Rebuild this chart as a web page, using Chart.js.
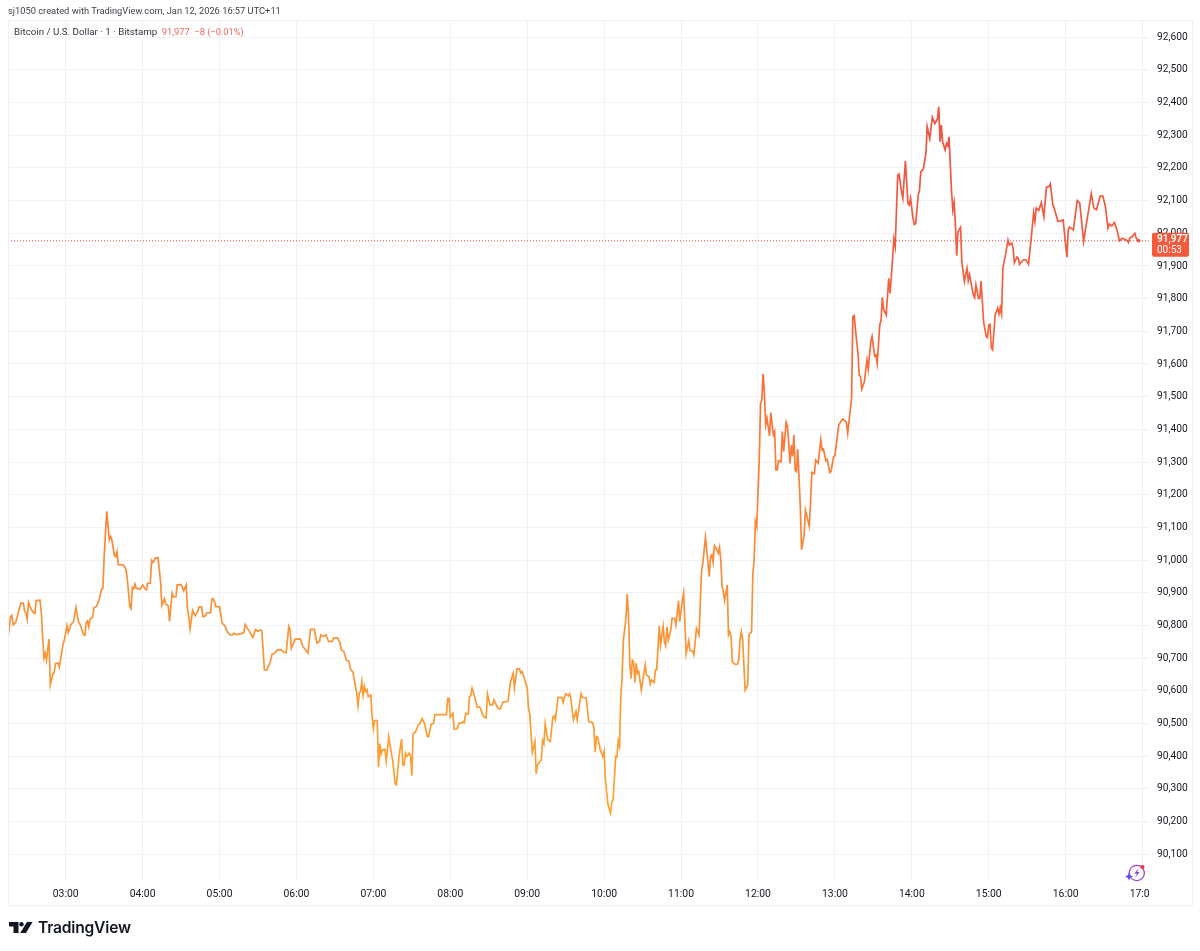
<!DOCTYPE html>
<html>
<head>
<meta charset="utf-8">
<title>Bitcoin / U.S. Dollar</title>
<script src="https://cdn.jsdelivr.net/npm/chart.js@4"></script>
<style>
  html, body { margin: 0; padding: 0; background: #fff; }
  #wrap { position: relative; width: 1200px; height: 951px; overflow: hidden; font-family: Roboto, sans-serif; }
  #chart { position: absolute; left: 0; top: 0; }
  #frame { position: absolute; left: 8px; top: 20px; width: 1183px; height: 884px; border: 1px solid #f0f1f4; pointer-events: none; }
  .txt { position: absolute; white-space: pre; }
  #credit { left: 8px; top: 5px; font-size: 9.3px; line-height: 12px; color: #3f424a; }
  #legend { left: 14px; top: 26px; font-size: 9.75px; line-height: 12px; color: #33363f; }
  #legend span { color: #ee6a5f; font-size: 9.3px; margin-left: 2px; }
  #mask { position: absolute; left: 1150px; top: 884px; width: 40px; height: 18px; background: #fff; }
  #brand { left: 38px; top: 918px; font-size: 15.6px; line-height: 20px; font-weight: 600; color: #131722; font-family: Inter, Roboto, sans-serif; letter-spacing: -0.2px; }
  svg { position: absolute; overflow: visible; }
</style>
</head>
<body>
<div id="wrap">
  <canvas id="chart" width="1200" height="951"></canvas>
  <div id="frame"></div>
  <div class="txt" id="credit">sj1050 created with TradingView.com, Jan 12, 2026 16:57 UTC+11</div>
  <div class="txt" id="legend">Bitcoin / U.S. Dollar · 1 · Bitstamp <span>91,977  −8 (−0.01%)</span></div>
  <div id="mask"></div>
  <svg style="left:1124px;top:863px" width="24" height="22" viewBox="0 0 24 22">
    <circle cx="12.8" cy="10" r="7.6" fill="none" stroke="#a045c8" stroke-width="1.3"/>
    <path d="M14.5 5 L10.5 10.5 L13 10.5 L11 15 L15.5 9 L13 9 Z" fill="#7e3fd0"/>
    <path d="M5 9.5 L6.2 12.3 L9 13.5 L6.2 14.7 L5 17.5 L3.8 14.7 L1 13.5 L3.8 12.3 Z" fill="#5a4ef0"/>
    <circle cx="18.5" cy="4" r="2" fill="#ee2f3c"/>
  </svg>
  <svg style="left:9px;top:922px" width="24" height="12" viewBox="0 0 24 12">
    <path d="M0 0 H9.5 V11 H4.5 V4.6 H0 Z" fill="#131722"/>
    <circle cx="12.5" cy="2.2" r="2.2" fill="#131722"/>
    <path d="M18 0 H23.5 L17 11 H11.2 Z" fill="#131722"/>
  </svg>
  <div class="txt" id="brand">TradingView</div>
</div>
<script>
// minutes since midnight
const minutes = [
  135,137,138,139,141,145,147,148,149,150,151,153,155,156,157,160,161,162,163,164,165,167,168,170,171,172,174,175,178,179,
  181,182,184,186,188,190,191,194,195,196,197,198,199,201,202,204,206,208,209,210,212,214,215,216,218,219,220,221,225,227,
  228,230,231,232,233,234,235,238,240,242,243,244,246,247,248,250,252,254,255,257,258,260,261,263,264,266,267,270,272,274,
  275,276,277,279,281,283,284,286,287,289,290,293,294,295,296,297,300,302,304,306,308,310,311,313,317,319,320,322,324,326,
  328,330,332,333,335,337,339,340,341,343,345,348,350,352,354,355,356,359,363,365,366,369,371,374,376,378,379,381,383,385,
  388,389,392,394,395,397,399,401,402,404,407,408,409,410,411,412,413,414,415,416,418,419,420,421,423,424,425,426,427,429,
  430,432,434,435,437,438,440,442,443,444,445,446,448,449,450,451,453,455,456,458,460,462,463,465,467,468,477,478,479,480,
  482,483,485,487,489,490,491,492,494,495,496,497,499,501,503,506,508,509,511,513,514,517,519,521,525,527,529,530,532,534,
  535,536,538,540,541,542,544,546,547,548,551,552,553,554,556,558,560,561,562,564,567,568,570,572,573,574,576,578,579,582,
  583,586,588,591,592,593,594,595,597,599,600,601,603,605,606,607,609,610,611,612,613,614,615,617,618,619,620,621,622,623,
  624,625,626,627,629,632,633,635,636,637,639,640,641,643,644,646,647,648,649,650,652,653,655,656,658,659,661,662,664,666,
  667,669,670,672,674,676,677,679,680,682,683,684,685,686,688,689,690,691,692,693,694,696,697,698,699,700,702,704,705,706,
  707,708,710,712,713,715,716,717,718,719,721,722,723,724,725,726,727,729,730,732,733,734,735,736,738,739,740,742,743,745,
  746,747,748,749,750,751,752,753,754,756,757,760,761,762,764,765,767,769,770,771,773,774,776,777,779,780,783,786,787,789,
  790,793,794,795,797,798,799,800,801,803,805,806,808,809,811,812,813,815,816,817,818,820,822,823,824,826,827,829,830,832,
  833,835,837,838,839,841,842,843,845,846,847,849,851,852,854,856,858,860,861,862,863,864,866,867,868,869,871,872,873,874,
  875,876,878,879,881,883,884,885,886,888,889,890,892,893,894,896,898,899,900,901,902,903,905,907,908,909,910,911,913,915,
  916,918,919,920,922,923,924,927,929,931,933,935,936,937,939,941,943,945,947,948,950,951,954,956,958,961,962,963,966,969,
  971,974,976,980,982,984,987,989,991,993,994,996,998,1000,1002,1004,1008,1009,1010,1012,1014,1015,1017
];

// BTC/USD price at each of those minutes
const prices = [
  90761,90827,90831,90802,90809,90868,90868,90843,90838,90819,90871,90850,90838,90837,90876,90877,90838,90766,90700,90715,90693,90758,90618,90652,90656,90683,90685,90672,90744,90756,
  90799,90778,90802,90810,90855,90810,90805,90771,90770,90809,90814,90795,90820,90825,90854,90858,90878,90912,90913,91011,91149,91062,91072,91062,91014,91011,91025,90986,90985,90972,
  90945,90858,90851,90916,90912,90927,90914,90911,90924,90911,90909,90929,90929,90999,90993,91006,91008,90934,90861,90882,90866,90860,90812,90899,90887,90887,90924,90925,90906,90924,
  90850,90827,90790,90846,90830,90843,90857,90857,90827,90829,90838,90839,90881,90882,90873,90858,90857,90807,90800,90781,90772,90771,90776,90772,90775,90778,90803,90789,90778,90763,
  90787,90782,90787,90784,90664,90664,90683,90695,90712,90715,90725,90726,90718,90717,90797,90787,90730,90758,90759,90735,90731,90715,90788,90788,90746,90751,90771,90766,90771,90751,
  90751,90762,90762,90746,90725,90720,90693,90690,90667,90657,90593,90554,90593,90598,90628,90587,90613,90598,90603,90582,90587,90521,90485,90509,90509,90366,90438,90406,90419,90421,
  90385,90460,90409,90389,90315,90312,90399,90452,90373,90373,90409,90399,90409,90401,90340,90468,90475,90496,90498,90515,90499,90460,90460,90497,90501,90527,90527,90577,90577,90519,
  90531,90482,90483,90501,90501,90506,90503,90531,90529,90582,90585,90608,90582,90550,90550,90521,90517,90591,90557,90557,90572,90547,90544,90565,90568,90628,90654,90608,90667,90667,
  90654,90659,90635,90608,90547,90529,90412,90445,90346,90373,90389,90448,90438,90499,90450,90445,90519,90523,90511,90580,90580,90564,90591,90584,90591,90577,90511,90537,90511,90591,
  90580,90578,90505,90503,90485,90412,90460,90458,90419,90399,90414,90327,90251,90225,90261,90266,90399,90397,90447,90431,90582,90643,90755,90822,90896,90832,90684,90638,90694,90689,
  90625,90684,90653,90659,90602,90679,90648,90643,90621,90633,90625,90664,90664,90799,90740,90798,90750,90738,90796,90755,90786,90822,90821,90801,90875,90812,90876,90900,90713,90753,
  90723,90722,90710,90791,90771,90968,90990,91069,91031,90949,91010,91016,90993,91044,91031,91021,91039,91000,90919,90903,90876,90924,90771,90781,90766,90689,90681,90682,90694,90755,
  90781,90760,90602,90618,90771,90781,90959,91000,91118,91102,91306,91480,91490,91570,91510,91414,91434,91380,91451,91383,91393,91276,91276,91304,91301,91393,91332,91422,91410,91296,
  91352,91317,91383,91276,91271,91340,91255,91164,91031,91077,91153,91104,91174,91268,91264,91306,91296,91368,91337,91340,91304,91308,91268,91271,91317,91319,91414,91432,91429,91422,
  91388,91495,91745,91748,91668,91633,91566,91561,91523,91546,91612,91584,91668,91684,91625,91628,91602,91720,91733,91804,91767,91750,91862,91816,91867,91982,91959,92178,92181,92127,
  92107,92221,92091,92086,92107,92044,92027,92030,92117,92132,92188,92197,92245,92326,92290,92355,92336,92350,92387,92280,92331,92280,92255,92275,92268,92295,92127,92071,92095,92025,
  91931,92005,92018,91913,91852,91893,91855,91874,91852,91811,91803,91842,91801,91801,91854,91729,91684,91681,91719,91721,91648,91643,91750,91772,91753,91772,91753,91893,91933,91979,
  91964,91970,91954,91910,91927,91924,91905,91919,91919,91905,91980,92063,92036,92077,92070,92094,92051,92141,92143,92151,92087,92077,92036,92038,92041,91927,92010,92019,92010,92100,
  92092,91975,92026,92121,92077,92072,92114,92114,92082,92016,92028,92023,92033,92010,91977,91985,91978,91972,91985,91990,92000,91985,91977
];

const priceTicks = [90100,90200,90300,90400,90500,90600,90700,90800,90900,91000,91100,91200,91300,91400,91500,91600,91700,91800,91900,92000,92100,92200,92300,92400,92500,92600];
const hourTicks = [180,240,300,360,420,480,540,600,660,720,780,840,900,960,1020];
const hourLabels = ['03:00','04:00','05:00','06:00','07:00','08:00','09:00','10:00','11:00','12:00','13:00','14:00','15:00','16:00','17:00'];
const lastPrice = 91977;
const countdown = '00:53';

const FONT = 'Roboto, sans-serif';
const GRID = '#f1f2f6';

function lineGradient(context) {
    const { chart } = context;
    if (!chart.chartArea) return '#f78c36';
    const y = chart.scales.y;
    const g = chart.ctx.createLinearGradient(0, y.getPixelForValue(92400), 0, y.getPixelForValue(90200));
    g.addColorStop(0, '#ee4f42');
    g.addColorStop(0.3, '#f5633c');
    g.addColorStop(0.5, '#fb7d38');
    g.addColorStop(0.7, '#f8923a');
    g.addColorStop(1, '#fca52e');
    return g;
}

// red tag with the last price and the bar countdown, sits on the price axis
const priceTag = {
    id: 'priceTag',
    afterDraw(chart) {
        const { ctx, scales } = chart;
        const y = scales.y.getPixelForValue(lastPrice);
        ctx.save();
        ctx.fillStyle = '#f7593c';
        ctx.beginPath();
        ctx.roundRect(1152, y - 8, 37, 24, 2);
        ctx.fill();
        ctx.fillStyle = '#fff';
        ctx.textAlign = 'left';
        ctx.textBaseline = 'middle';
        ctx.font = `600 10px ${FONT}`;
        ctx.fillText(lastPrice.toLocaleString('en-US'), 1157, y - 1);
        ctx.font = `10px ${FONT}`;
        ctx.fillText(countdown, 1157, y + 10);
        ctx.restore();
    }
};

new Chart(document.getElementById('chart').getContext('2d'), {
    type: 'line',
    data: {
        datasets: [
            {
                data: minutes.map((m, i) => ({ x: m, y: prices[i] })),
                borderColor: lineGradient,
                borderWidth: 1.7,
                pointRadius: ctx => ctx.dataIndex === minutes.length - 1 ? 1.8 : 0,
                pointBackgroundColor: '#ee4a3f',
                pointBorderWidth: 0,
                tension: 0
            },
            {
                data: [{ x: 135, y: lastPrice }, { x: 1025, y: lastPrice }],
                borderColor: '#f0443c',
                borderWidth: 1,
                borderDash: [1, 2],
                pointRadius: 0
            }
        ]
    },
    plugins: [priceTag],
    options: {
        responsive: false,
        animation: false,
        events: [],
        layout: { padding: { left: 8, top: 20, right: 0, bottom: 0 } },
        plugins: { legend: { display: false }, tooltip: { enabled: false } },
        scales: {
            x: {
                type: 'linear',
                min: 135,
                max: 1025,
                afterBuildTicks: axis => { axis.ticks = hourTicks.map(v => ({ value: v })); },
                afterFit: axis => { axis.height = 71; },
                grid: { color: GRID, drawTicks: false },
                border: { display: false },
                ticks: {
                    callback: v => hourLabels[hourTicks.indexOf(v)],
                    color: '#131722',
                    font: { family: FONT, size: 10.4 },
                    padding: 8,
                    maxRotation: 0,
                    autoSkip: false
                }
            },
            y: {
                position: 'right',
                min: 90021,
                max: 92652.6,
                afterBuildTicks: axis => { axis.ticks = priceTicks.map(v => ({ value: v })); },
                afterFit: axis => { axis.width = 51; },
                grid: { color: GRID, drawTicks: false },
                border: { display: false },
                ticks: {
                    callback: v => v.toLocaleString('en-US'),
                    color: '#131722',
                    font: { family: FONT, size: 10.2 },
                    padding: 8,
                    autoSkip: false
                }
            }
        }
    }
});
</script>
</body>
</html>
